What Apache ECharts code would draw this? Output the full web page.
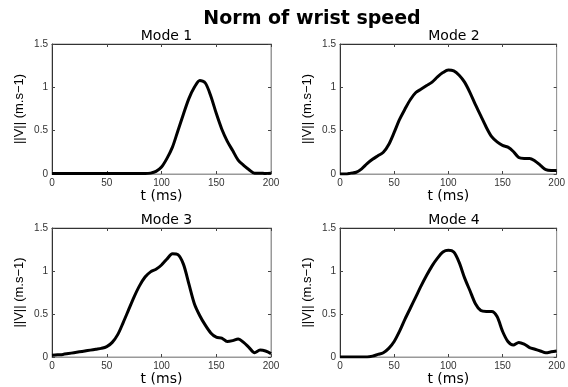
<!DOCTYPE html>
<html>
<head>
<meta charset="utf-8">
<script src="https://cdn.jsdelivr.net/npm/echarts@6/dist/echarts.min.js"></script>
<style>
  html, body { margin: 0; padding: 0; background: #fff; }
  #chart { width: 568px; height: 387px; }
</style>
</head>
<body>
<div id="chart"></div>
<script>
// time axis, ms (5 ms steps)
const timeMs = [0, 5, 10, 15, 20, 25, 30, 35, 40, 45, 50, 55, 60, 65, 70, 75, 80, 85, 90, 95,
  100, 105, 110, 115, 120, 125, 130, 135, 140, 145, 150, 155, 160, 165, 170, 175, 180, 185, 190, 195, 200];

// ||V|| in m.s-1
const mode1 = [0.005, 0.005, 0.005, 0.005, 0.005, 0.005, 0.005, 0.005, 0.005, 0.005, 0.005, 0.005, 0.005, 0.005,
  0.005, 0.005, 0.005, 0.005, 0.01, 0.03, 0.08, 0.18, 0.31, 0.5, 0.69, 0.87, 1.0, 1.08, 1.05, 0.9, 0.7, 0.52,
  0.38, 0.27, 0.16, 0.1, 0.05, 0.01, 0.01, 0.005, 0.01];
const mode2 = [0, 0, 0.01, 0.02, 0.06, 0.12, 0.17, 0.21, 0.25, 0.34, 0.48, 0.63, 0.75, 0.86, 0.94, 0.98, 1.02,
  1.06, 1.12, 1.17, 1.2, 1.19, 1.14, 1.06, 0.94, 0.8, 0.67, 0.54, 0.43, 0.37, 0.33, 0.31, 0.26, 0.19, 0.18,
  0.18, 0.15, 0.1, 0.05, 0.04, 0.04];
const mode3 = [0.02, 0.025, 0.03, 0.04, 0.05, 0.06, 0.07, 0.08, 0.09, 0.1, 0.12, 0.17, 0.26, 0.4, 0.55, 0.7,
  0.83, 0.93, 0.99, 1.02, 1.07, 1.14, 1.2, 1.19, 1.08, 0.85, 0.62, 0.48, 0.37, 0.28, 0.23, 0.22, 0.18, 0.19,
  0.21, 0.17, 0.11, 0.05, 0.08, 0.07, 0.04];
const mode4 = [0, 0, 0, 0, 0, 0, 0.01, 0.03, 0.05, 0.1, 0.18, 0.3, 0.44, 0.57, 0.7, 0.83, 0.95, 1.06, 1.15,
  1.22, 1.24, 1.22, 1.1, 0.92, 0.77, 0.62, 0.54, 0.53, 0.53, 0.47, 0.3, 0.18, 0.14, 0.17, 0.15, 0.11, 0.09,
  0.07, 0.05, 0.06, 0.07];

const panelNames = ['Mode 1', 'Mode 2', 'Mode 3', 'Mode 4'];
const panelData = [mode1, mode2, mode3, mode4];
const mainTitle = 'Norm of wrist speed';
const xName = 't (ms)';
const yName = '||V|| (m.s\u22121)';

const FONT = '"Liberation Sans", Arial, sans-serif';
const WIDE = '"DejaVu Sans", sans-serif';
const grids = [
  { left: 52, top: 44, width: 219, height: 130 },
  { left: 340, top: 44, width: 218, height: 130 },
  { left: 52, top: 228, width: 219, height: 129 },
  { left: 340, top: 228, width: 218, height: 129 },
];

const title = [{
  text: mainTitle, left: 307, top: 5, textAlign: 'center',
  textStyle: { fontFamily: WIDE, fontSize: 19, fontWeight: 'bold', color: '#000' },
}];
const xAxis = [];
const yAxis = [];
const series = [];

grids.forEach((g, i) => {
  g.show = true;
  g.borderColor = '#999';
  g.borderWidth = 1;
  g.containLabel = false;
  title.push({
    text: panelNames[i], left: g.left + g.width / 2, top: g.top - 20, textAlign: 'center',
    textStyle: { fontFamily: WIDE, fontSize: 14, fontWeight: 'normal', color: '#000' },
  });
  // bottom x axis
  xAxis.push({
    type: 'value', gridIndex: i, min: 0, max: 200, interval: 50,
    name: xName, nameLocation: 'middle', nameGap: 14,
    nameTextStyle: { fontFamily: WIDE, fontSize: 14, color: '#000', verticalAlign: 'top' },
    axisLine: { show: true, onZero: false, lineStyle: { color: '#999' } },
    axisTick: { show: true, inside: true, length: 3, lineStyle: { color: '#444' } },
    axisLabel: { fontFamily: FONT, fontSize: 10, color: '#333', margin: 4 },
    splitLine: { show: false },
  });
  // top x axis (box edge with ticks)
  xAxis.push({
    type: 'value', gridIndex: i, position: 'top', min: 0, max: 200, interval: 50,
    axisLine: { show: true, onZero: false, lineStyle: { color: '#333' } },
    axisTick: { show: true, inside: true, length: 3, lineStyle: { color: '#444' } },
    axisLabel: { show: false }, splitLine: { show: false },
  });
  yAxis.push({
    type: 'value', gridIndex: i, min: 0, max: 1.5, interval: 0.5,
    name: yName, nameLocation: 'middle', nameGap: 26, nameRotate: 90,
    nameTextStyle: { fontFamily: FONT, fontSize: 13, color: '#000' },
    axisLine: { show: true, onZero: false, lineStyle: { color: '#333' } },
    axisTick: { show: true, inside: true, length: 3, lineStyle: { color: '#444' } },
    axisLabel: { fontFamily: FONT, fontSize: 10, color: '#333', margin: 4 },
    splitLine: { show: false },
  });
  yAxis.push({
    type: 'value', gridIndex: i, position: 'right', min: 0, max: 1.5, interval: 0.5,
    axisLine: { show: true, onZero: false, lineStyle: { color: '#999' } },
    axisTick: { show: true, inside: true, length: 3, lineStyle: { color: '#444' } },
    axisLabel: { show: false }, splitLine: { show: false },
  });
  series.push({
    type: 'line', xAxisIndex: i * 2, yAxisIndex: i * 2,
    data: timeMs.map((t, k) => [t, panelData[i][k]]),
    smooth: 0.3, showSymbol: false, symbol: 'none',
    lineStyle: { color: '#000', width: 3 },
  });
});

const chart = echarts.init(document.getElementById('chart'), null, { renderer: 'canvas' });
chart.setOption({
  animation: false,
  backgroundColor: '#fff',
  title, grid: grids, xAxis, yAxis, series,
});
</script>
</body>
</html>
